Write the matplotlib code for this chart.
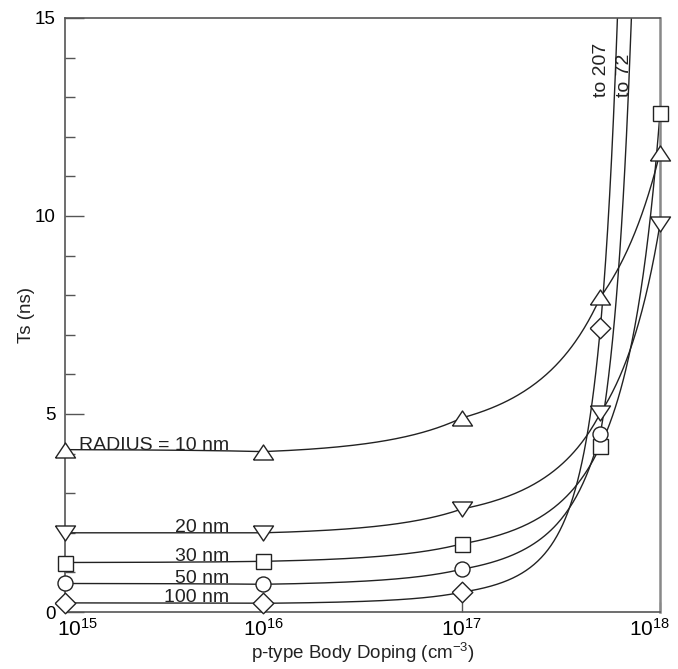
import matplotlib
matplotlib.use('Agg')

import numpy as np
import matplotlib.pyplot as plt
from matplotlib.transforms import ScaledTranslation

plt.rcParams['font.family'] = ['Liberation Sans', 'DejaVu Sans']
plt.rcParams['mathtext.fontset'] = 'custom'
plt.rcParams['mathtext.rm'] = 'Liberation Sans'
plt.rcParams['mathtext.it'] = 'Liberation Sans:italic'

# doping (cm^-3) and Ts (ns) for each radius
doping = [1e15, 1e16, 1e17, 5e17, 1e18]
ts_10nm = [4.10, 4.05, 4.90, 7.95, 11.6]
ts_20nm = [2.00, 2.00, 2.60, 5.02, 9.8]
ts_30nm = [1.25, 1.28, 1.72, 4.19, 12.6]
ts_50nm = [0.72, 0.70, 1.08, 4.50, 72.0]
ts_100nm = [0.23, 0.22, 0.50, 7.17, 207.0]

# which points get a marker (the off-scale end points do not)
marked = [5, 5, 5, 4, 4]
labels = ['RADIUS = 10 nm', '20 nm', '30 nm', '50 nm', '100 nm']
label_y = [4.09, 2.03, 1.29, 0.74, 0.26]

xticks = [1e15, 1e16, 1e17, 1e18]
xticklabels = ['$10^{15}$', '$10^{16}$', '$10^{17}$', '$10^{18}$']


def smooth(x, y, n=80):
    # log(Ts) taken linear in doping between the measured points
    xs, ys = [], []
    for i in range(len(x) - 1):
        seg = np.linspace(x[i], x[i + 1], n)
        ly = np.interp(seg, [x[i], x[i + 1]], [np.log(y[i]), np.log(y[i + 1])])
        xs.append(seg)
        ys.append(np.exp(ly))
    return np.concatenate(xs), np.concatenate(ys)


tri_up = [(-1, -0.75), (1, -0.75), (0, 0.75), (-1, -0.75)]
tri_dn = [(-1, 0.75), (1, 0.75), (0, -0.75), (-1, 0.75)]
diamond = [(-1, 0), (0, 1), (1, 0), (0, -1), (-1, 0)]
markers = [(tri_up, 14.4), (tri_dn, 14.4), ('s', 10.8), ('o', 10.8),
           (diamond, 14.8)]

fig = plt.figure(figsize=(6.78, 6.69), dpi=100)
ax = fig.add_axes([0.0959, 0.0852, 0.8776, 0.8879])

line_c = '#222222'
series = [ts_10nm, ts_20nm, ts_30nm, ts_50nm, ts_100nm]
for ts, nm, (mk, ms), lab, ly in zip(series, marked, markers, labels, label_y):
    cx, cy = smooth(doping, ts)
    ax.plot(cx, cy, color=line_c, lw=1.0, zorder=2)
    ax.plot(doping[:nm], ts[:nm], ls='none', marker=mk, ms=ms,
            mfc='white', mec=line_c, mew=1.0, zorder=3, clip_on=False)
    ax.text(6.73e15, ly, lab, ha='right', va='baseline', fontsize=14,
            color='#222222')

ax.text(5.04e17, 13.0, 'to 207', rotation=90, ha='center', va='bottom',
        fontsize=14, color='#222222')
ax.text(6.65e17, 13.0, 'to 72', rotation=90, ha='center', va='bottom',
        fontsize=14, color='#222222')

ax.set_xscale('log')
ax.set_xlim(1e15, 1e18)
ax.set_ylim(0, 15)
ax.set_xticks(xticks)
ax.set_xticklabels(xticklabels, fontsize=15)
ax.xaxis.set_minor_locator(matplotlib.ticker.NullLocator())
ax.set_yticks([0, 5, 10, 15])
ax.set_yticks(np.arange(0, 16, 1), minor=True)
ax.tick_params(axis='y', which='major', direction='in', length=13.5,
               width=1.0, color='#555555', labelsize=13.5, pad=7)
ax.tick_params(axis='y', which='minor', direction='in', length=7.5,
               width=1.0, color='#555555')
ax.tick_params(axis='x', which='major', direction='in', length=7,
               width=1.0, color='#555555', pad=4)

# nudge the end labels inwards like the original
tl = ax.get_xticklabels()
tl[0].set_transform(tl[0].get_transform() +
                    ScaledTranslation(0.12, 0, fig.dpi_scale_trans))
tl[-1].set_transform(tl[-1].get_transform() +
                     ScaledTranslation(-0.11, 0, fig.dpi_scale_trans))

for sp in ax.spines.values():
    sp.set_color('#555555')
    sp.set_linewidth(1.2)
ax.spines['right'].set_color('#888888')
ax.spines['right'].set_linewidth(1.8)

ax.set_xlabel('p-type Body Doping (cm$^{-3}$)', fontsize=13.5, color='#222222')
ax.xaxis.set_label_coords(0.5, -0.048)
ax.set_ylabel('Ts (ns)', fontsize=13.5, color='#222222')
ax.yaxis.set_label_coords(-0.05, 0.5)

fig.savefig('out.png', dpi=100)
